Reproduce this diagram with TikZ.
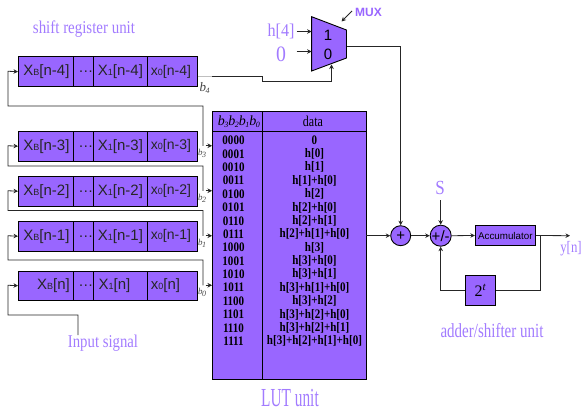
\documentclass[tikz,border=0pt]{standalone}
\usepackage{fontspec}
\usepackage{graphicx}
\setmainfont{Liberation Serif}
\setsansfont{Liberation Sans}
\usetikzlibrary{arrows.meta}
\definecolor{pur}{HTML}{9966FF}
\definecolor{lab}{HTML}{A27BFF}
\newcommand{\fs}[1]{\fontsize{#1}{#1}\selectfont}
\newcommand{\sm}[1]{{\fs{9}#1}}
\newcommand{\nar}[2]{\scalebox{#1}[1]{#2}}
\tikzset{
 cell/.style={draw=black,fill=pur,line width=0.9pt,minimum height=29.5pt,inner sep=0pt,font=\sffamily\fs{15},text=black!85,anchor=north west},
 wire/.style={draw=black!85,line width=0.8pt},
 arr/.style={wire,-{Stealth[length=4.5pt,width=4.5pt]}},
 lab/.style={text=lab,inner sep=0pt},
 blab/.style={font=\itshape\fs{9},text=black!70,fill=white,inner sep=0.5pt},
 row/.style={font=\bfseries\fs{13},inner sep=0pt,text=black},
 lut/.style={draw=black,fill=pur,line width=0.9pt,inner sep=0pt,anchor=north west},
 circ/.style={circle,draw=black,fill=pur,line width=0.9pt,minimum size=20pt,inner sep=0pt,font=\sffamily\fs{15}}
}
\newcommand{\regrow}[5]{% id, y, xb, x1, x0
 \node[cell,minimum width=55pt] (#1b) at (18,#2) {#3};
 \node[cell,minimum width=20pt] (#1d) at (73,#2) {\hspace*{5pt}\raisebox{-1pt}{\dots}};
 \node[cell,minimum width=54pt] (#1o) at (93,#2) {#4};
 \node[cell,minimum width=50pt] (#1z) at (147,#2) {#5};
}
\newcommand{\bsub}[1]{b\kern-0.5pt\raisebox{-2pt}{\fs{8}#1}}
\begin{document}
\begin{tikzpicture}[x=1pt,y=-1pt]
\useasboundingbox (0,0) rectangle (584,412);
% shift registers
\regrow{a}{56.5}{\hspace*{1pt}X\sm{B}[n-4]}{X\sm{1}[n-4]}{\hspace*{-3pt}\fs{14}x\sm{0}[n-4]}
\regrow{c}{131}{\hspace*{1pt}X\sm{B}[n-3]}{X\sm{1}[n-3]}{\hspace*{-3pt}\fs{14}x\sm{0}[n-3]}
\regrow{e}{176}{\hspace*{1pt}X\sm{B}[n-2]}{X\sm{1}[n-2]}{\hspace*{-3pt}\fs{14}x\sm{0}[n-2]}
\regrow{g}{221}{\hspace*{1pt}X\sm{B}[n-1]}{X\sm{1}[n-1]}{\hspace*{-3pt}\fs{14}x\sm{0}[n-1]}
\regrow{i}{270.5}{\hspace*{15pt}X\sm{B}[n]}{\hspace*{-12pt}X\sm{1}[n]}{\hspace*{-14pt}x\sm{0}[n]}
% LUT
\node[lut,minimum width=50pt,minimum height=20pt,font=\itshape\fs{14}] (luth) at (212,111) {\hspace*{3pt}\bsub{3}\bsub{2}\bsub{1}\bsub{0}};
\node[lut,minimum width=104pt,minimum height=20pt,font=\fs{15}] (lutd) at (262,111) {\hspace*{-3pt}\nar{0.8}{data}};
\node[lut,minimum width=50pt,minimum height=248pt] (lutl) at (212,131) {};
\node[lut,minimum width=104pt,minimum height=248pt] (lutr) at (262,131) {};
\foreach \i/\c/\d in {0/0000/0,1/0001/{h[0]},2/0010/{h[1]},3/0011/{h[1]+h[0]},4/0100/{h[2]},5/0101/{h[2]+h[0]},6/0110/{h[2]+h[1]},7/0111/{h[2]+h[1]+h[0]},8/1000/{h[3]},9/1001/{h[3]+h[0]},10/1010/{h[3]+h[1]},11/1011/{h[3]+h[1]+h[0]},12/1100/{h[3]+h[2]},13/1101/{h[3]+h[2]+h[0]},14/1110/{h[3]+h[2]+h[1]},15/1111/{h[3]+h[2]+h[1]+h[0]}}{
 \node[row] (rc\i) at (233.5,140.5+13.38*\i) {\nar{0.85}{\c}};
 \node[row] (rd\i) at (314.5,140.5+13.38*\i) {\nar{0.85}{\d}};
}
% MUX
\draw[fill=pur,draw=black,line width=0.9pt] (311.6,16.7) -- (346.5,30) -- (346.5,58) -- (311.6,71) -- cycle;
\coordinate (muxout) at (346.5,46.5);
\coordinate (muxbot) at (331.5,64.5);
\node[font=\sffamily\fs{15},inner sep=0pt] (m1) at (328,35) {1};
\node[font=\sffamily\fs{15},inner sep=0pt] (m0) at (328,54) {0};
\node[lab,font=\fs{18}] (h4) at (281,31) {\nar{0.9}{h[4]}};
\node[lab,font=\fs{22}] (zero) at (281,54.5) {\nar{0.9}{0}};
\coordinate (mi1) at (311.6,31.5);
\coordinate (mi0) at (311.6,51.5);
\draw[arr] (296.5,31.5) -- (mi1);
\draw[arr] (296.5,51.5) -- (mi0);
\node[font=\sffamily\bfseries\fs{12},text=pur,inner sep=0pt] (mux) at (368.5,12) {MUX};
\coordinate (muxp) at (341.5,21.5);
\draw[arr] (352,11) -- (muxp);
% adders
\node[circ] (plus) at (400.7,235.7) {+};
\node[circ] (pm) at (440.7,235.7) {+/-};
\node[draw=black,fill=pur,line width=0.9pt,minimum width=60pt,minimum height=20pt,inner sep=0pt,font=\sffamily\fs{9.8}] (acc) at (505.3,235.5) {Accumulator};
\node[draw=black,fill=pur,line width=0.9pt,minimum width=30pt,minimum height=30pt,inner sep=0pt,font=\fs{16}] (shf) at (480.5,290) {2$^{\mathit{t}}$};
\node[lab,font=\fs{20}] (S) at (440,188) {\nar{0.85}{S}};
\coordinate (Sb) at (440.7,200);
\node[lab,font=\fs{16}] (y) at (571,248.5) {\nar{0.8}{y[n]}};
\coordinate (yend) at (570,235.7);
\coordinate (fb1) at (540,235.7);
\coordinate (fb2) at (540,290);
\coordinate (fb3) at (440.7,290);
\coordinate (lutout) at (366,235.7);
\draw[arr] (lutout) -- (plus.west);
\draw[arr] (plus.east) -- (pm.west);
\draw[arr] (pm.east) -- (acc.west);
\draw[arr] (acc.east) -- (yend);
\draw[arr] (Sb) -- (pm.north);
\draw[wire] (fb1) -- (fb2) -- (shf.east);
\draw[arr] (shf.west) -- (fb3) -- (pm.south);
\draw[arr] (muxout) -- (400.7,46.5) -- (plus.north);
% text labels
\node[lab,font=\fs{18}] (t1) at (84,29) {\nar{0.83}{shift register unit}};
\node[lab,font=\fs{18}] (t2) at (103,343) {\nar{0.82}{Input signal}};
\node[lab,font=\fs{26}] (t3) at (290,398) {\nar{0.59}{LUT unit}};
\node[lab,font=\fs{20}] (t4) at (492,331) {\nar{0.75}{adder/shifter unit}};
% feedback wiring
\coordinate (w4) at (212,76.5);
\draw[line width=0.6pt,black!25] (az.east |- w4) -- (w4);
\draw[arr] (w4) -- (262,76.5) -- (262,81) -- (331.5,81) -- (muxbot);
\coordinate (inp) at (78,335);
\draw[arr] (203,145.75) -- (203,106) -- (8,106) -- (8,71.25) -- (ab.west);
\draw[arr] (203,190.75) -- (203,166) -- (8,166) -- (8,145.75) -- (cb.west);
\draw[arr] (203,235.75) -- (203,210.5) -- (8,210.5) -- (8,190.75) -- (eb.west);
\draw[arr] (203,285.25) -- (203,260) -- (8,260) -- (8,235.75) -- (gb.west);
\draw[arr] (inp) -- (78,315) -- (8,315) -- (8,285.25) -- (ib.west);
% stubs into LUT
\foreach \r/\yy in {c/145.75,e/190.75,g/235.75,i/285.25}{
 \coordinate (st\r) at (205.5,\yy);
 \draw[arr] (st\r) -- (lutl.west |- st\r);
}
% bit labels
\node[font=\itshape\fs{13},text=black!75,inner sep=0pt] (b4) at (204.5,87.5) {\bsub{4}};
\node[blab] (b3) at (202,153) {\bsub{3}};
\node[blab] (b2) at (202,198.5) {\bsub{2}};
\node[blab] (b1) at (202,243) {\bsub{1}};
\node[blab] (b0) at (202,292.5) {\bsub{0}};
\end{tikzpicture}
\end{document}
